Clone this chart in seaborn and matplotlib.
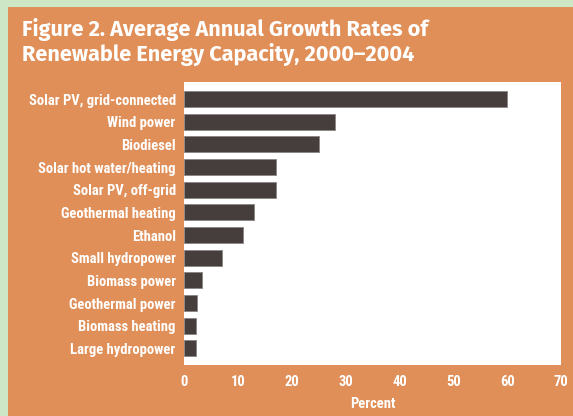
import matplotlib
matplotlib.use("Agg")
import matplotlib.pyplot as plt
import matplotlib.patches as mpatches
import seaborn as sns
import pandas as pd

categories = [
    "Solar PV, grid-connected", "Wind power", "Biodiesel",
    "Solar hot water/heating", "Solar PV, off-grid", "Geothermal heating",
    "Ethanol", "Small hydropower", "Biomass power", "Geothermal power",
    "Biomass heating", "Large hydropower",
]
values = [60, 28, 25, 17, 17, 13, 11, 7, 3.3, 2.5, 2.3, 2.3]
xticks = [0, 10, 20, 30, 40, 50, 60, 70]
title = "Figure 2. Average Annual Growth Rates of\nRenewable Energy Capacity, 2000\u20132004"
xlabel = "Percent"

GREEN = "#cce6c6"
ORANGE = "#e08f59"
BAR = "#463e3c"

sns.set_theme(style="white")
plt.rcParams["font.family"] = ["Roboto Condensed", "DejaVu Sans"]

df = pd.DataFrame({"cat": categories, "val": values})

fig = plt.figure(figsize=(5.73, 4.16), dpi=100, facecolor=GREEN)
fig.patches.append(mpatches.Rectangle((8 / 573, 0), 1, 1 - 7 / 416,
                                      transform=fig.transFigure,
                                      facecolor=ORANGE, edgecolor="none", zorder=-10))
ax = fig.add_axes([184 / 573, 1 - 365 / 416, (561 - 184) / 573, (365 - 82) / 416])
ax.set_facecolor("white")

sns.barplot(data=df, y="cat", x="val", orient="h", color=BAR, width=0.71,
            edgecolor="#8a8584", linewidth=0.6, saturation=1, ax=ax)

ax.set_xlim(0, 70)
ax.set_ylim(11.73, -0.75)
ax.set_xticks(xticks)
ax.set_xticklabels([str(t) for t in xticks])
for s in ax.spines.values():
    s.set_visible(False)
ax.tick_params(axis="x", direction="in", length=4, width=1.5, color="#333333",
               pad=7, labelsize=10.5, labelcolor="white")
ax.tick_params(axis="y", length=0, pad=6, labelsize=10.5, labelcolor="white")
for lab in ax.get_xticklabels() + ax.get_yticklabels():
    lab.set_fontweight("bold")
xt = ax.xaxis.get_major_ticks()
xt[0].tick1line.set_visible(False)
xt[-1].tick1line.set_visible(False)
ax.set_ylabel("")
ax.set_xlabel(xlabel, color="white", fontsize=10.5, fontweight="bold", labelpad=6)

fig.text(22 / 573, 1 - 18 / 416, title, ha="left", va="top", color="white",
         fontsize=15.6, fontweight="bold",
         family=["Fira Sans", "Lato", "DejaVu Sans"],
         linespacing=1.1)

fig.savefig("out.png", dpi=100, facecolor=GREEN)
